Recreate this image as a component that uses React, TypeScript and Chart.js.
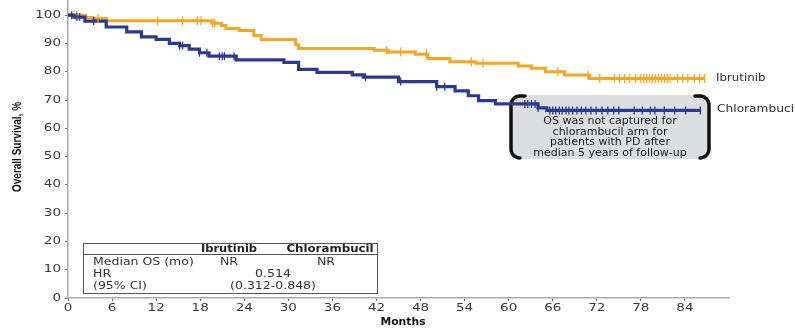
import React, { useEffect, useRef } from "react";
import { Chart, registerables } from "chart.js";

Chart.register(...registerables);

// Kaplan–Meier overall survival, ibrutinib vs chlorambucil
const ibrMonths = [0, 2.4, 3.4, 5.2, 19.6, 20.9, 21.5, 23.3, 25.3, 26.3, 31.0, 31.4, 41.7, 43.6, 47.3, 49.0, 52.0, 55.5, 61.3, 63.1, 65.0, 67.6, 71.0, 86.7];
const ibrSurv = [100, 99.2, 98.8, 98.0, 97.1, 96.3, 95.3, 94.6, 92.8, 91.4, 89.5, 88.2, 87.6, 87.0, 86.2, 84.7, 83.5, 83.0, 82.0, 81.2, 80.0, 78.8, 77.6, 77.6];

const chlMonths = [0, 0.8, 2.3, 5.2, 8.0, 10.0, 12.0, 13.8, 15.2, 16.5, 17.9, 19.2, 22.9, 29.4, 31.4, 33.9, 38.7, 40.2, 45.0, 50.2, 52.7, 54.5, 55.9, 58.2, 64.0, 65.2, 86.2];
const chlSurv = [100, 99.3, 97.9, 95.8, 94.1, 92.3, 91.4, 90.0, 89.2, 88.0, 86.7, 85.5, 84.2, 83.3, 80.8, 79.8, 78.9, 78.1, 76.5, 74.7, 73.2, 71.5, 69.8, 68.6, 67.2, 66.3, 66.3];

// censored observations (months)
const ibrCensor = [1.2, 4.1, 12.2, 15.6, 17.6, 18.1, 19.7, 20.0, 43.4, 45.3, 48.8, 54.9, 56.5, 66.7, 70.8, 72.4, 74.4, 75.1, 75.8, 76.5, 77.3, 78.0, 78.4, 78.8, 79.2, 79.6, 80.0, 80.4, 80.8, 81.2, 81.6, 82.0, 83.0, 83.7, 84.4, 85.3, 86.0, 86.7];
const chlCensor = [0.5, 1.2, 1.6, 3.5, 15.2, 15.6, 17.9, 18.9, 20.6, 21.0, 21.3, 22.6, 40.5, 45.3, 50.2, 51.3, 62.2, 62.6, 63.1, 63.6, 64.0, 65.6, 66.0, 66.4, 66.9, 67.3, 67.8, 68.2, 68.7, 69.3, 69.9, 70.5, 71.2, 71.9, 72.7, 73.5, 74.3, 75.0, 77.1, 78.2, 79.3, 79.9, 81.2, 82.6, 84.1, 86.1];

const xTicks = [0, 6, 12, 18, 24, 30, 36, 42, 48, 54, 60, 66, 72, 78, 84];
const yTicks = [0, 10, 20, 30, 40, 50, 60, 70, 80, 90, 100];

const tableHeader = ["Ibrutinib", "Chlorambucil"];
const tableRows = [
  ["Median OS (mo)", "NR", "NR"],
  ["HR", "0.514", ""],
  ["(95% CI)", "(0.312-0.848)", ""],
];
const noteLines = [
  "OS was not captured for",
  "chlorambucil arm for",
  "patients with PD after",
  "median 5 years of follow-up",
];

const ORANGE = "#F6A623";
const BLUE = "#2B3990";
const FONT = "'DejaVu Sans', sans-serif";

const stepAt = (months: number[], surv: number[], t: number) => {
  let v = surv[0];
  for (let i = 0; i < months.length; i++) if (months[i] <= t) v = surv[i];
  return v;
};

const wideText = (
  ctx: CanvasRenderingContext2D,
  text: string,
  x: number,
  y: number,
  sx: number,
  align: CanvasTextAlign
) => {
  ctx.save();
  ctx.translate(x, y);
  ctx.scale(sx, 1);
  ctx.textAlign = align;
  ctx.textBaseline = "middle";
  ctx.fillText(text, 0, 0);
  ctx.restore();
};

const decorations = {
  id: "decorations",
  beforeDatasetsDraw(chart: any) {
    const ctx: CanvasRenderingContext2D = chart.ctx;
    // shaded note box with brackets
    const L = 511, R = 709, T = 95, B = 159;
    ctx.save();
    ctx.fillStyle = "#DCDDDF";
    ctx.beginPath();
    ctx.roundRect(L, T, R - L, B - T, 6);
    ctx.fill();
    ctx.strokeStyle = "#111";
    ctx.lineWidth = 3.5;
    ctx.lineCap = "round";
    ctx.beginPath();
    ctx.moveTo(L + 14, T + 1);
    ctx.arcTo(L, T + 1, L, T + 14, 9);
    ctx.lineTo(L, B - 14);
    ctx.arcTo(L, B - 1, L + 14, B - 1, 9);
    ctx.stroke();
    ctx.beginPath();
    ctx.moveTo(R - 14, T + 1);
    ctx.arcTo(R, T + 1, R, T + 14, 9);
    ctx.lineTo(R, B - 14);
    ctx.arcTo(R, B - 1, R - 14, B - 1, 9);
    ctx.stroke();
    ctx.fillStyle = "#1a1a1a";
    ctx.font = `10px ${FONT}`;
    noteLines.forEach((s, i) => wideText(ctx, s, 610, 121.5 + i * 10.6, 1.1, "center"));
    ctx.restore();
  },
  afterDraw(chart: any) {
    const ctx: CanvasRenderingContext2D = chart.ctx;
    const xs = chart.scales.x;
    const ys = chart.scales.y;
    ctx.save();
    // tick labels
    ctx.fillStyle = "#3a3a3a";
    ctx.font = `10px ${FONT}`;
    yTicks.forEach((v) => wideText(ctx, String(v), 61, ys.getPixelForValue(v), 1.35, "right"));
    xTicks.forEach((v) => wideText(ctx, String(v), xs.getPixelForValue(v), 308.5, 1.35, "center"));

    // axis titles
    ctx.fillStyle = "#111";
    ctx.font = `bold 10.5px ${FONT}`;
    wideText(ctx, "Months", 403, 322, 1.03, "center");
    ctx.save();
    ctx.translate(18, 147);
    ctx.rotate(-Math.PI / 2);
    ctx.font = `bold 10px 'Liberation Sans', sans-serif`;
    ctx.scale(1, 1.25);
    ctx.textAlign = "center";
    ctx.textBaseline = "middle";
    ctx.fillText("Overall Survival, %", 0, 0);
    ctx.restore();

    // curve end labels
    ctx.fillStyle = "#2a2a2a";
    ctx.font = `10px ${FONT}`;
    wideText(ctx, "Ibrutinib", 716, ys.getPixelForValue(ibrSurv[ibrSurv.length - 1]), 1.18, "left");
    wideText(ctx, "Chlorambucil", 717, ys.getPixelForValue(chlSurv[chlSurv.length - 1]) - 1, 1.22, "left");

    // summary table
    const tL = 83, tR = 377, tT = 243, tB = 293;
    ctx.fillStyle = "#fff";
    ctx.fillRect(tL, tT, tR - tL, tB - tT);
    ctx.strokeStyle = "#555";
    ctx.lineWidth = 1;
    ctx.strokeRect(tL + 0.5, tT + 0.5, tR - tL, tB - tT);
    ctx.beginPath();
    ctx.moveTo(tL, 254.5);
    ctx.lineTo(tR, 254.5);
    ctx.stroke();
    ctx.fillStyle = "#222";
    ctx.font = `bold 10px ${FONT}`;
    wideText(ctx, tableHeader[0], 229, 249.5, 1.15, "center");
    wideText(ctx, tableHeader[1], 330, 249.5, 1.18, "center");
    ctx.fillStyle = "#333";
    ctx.font = `10px ${FONT}`;
    const rowY = [262, 274, 286];
    tableRows.forEach((row, i) => {
      wideText(ctx, row[0], 93, rowY[i], 1.25, "left");
      if (row[2]) {
        wideText(ctx, row[1], 229, rowY[i], 1.25, "center");
        wideText(ctx, row[2], 326, rowY[i], 1.25, "center");
      } else {
        wideText(ctx, row[1], 273, rowY[i], 1.25, "center");
      }
    });
    ctx.restore();
  },
};

const noScalePadding = (s: any) => {
  s.paddingTop = 0;
  s.paddingBottom = 0;
  s.paddingLeft = 0;
  s.paddingRight = 0;
};

export default function App() {
  const canvasRef = useRef<HTMLCanvasElement | null>(null);

  useEffect(() => {
    const canvas = canvasRef.current;
    if (!canvas) return;

    const ibrLine = ibrMonths.map((m, i) => ({ x: m, y: ibrSurv[i] }));
    const chlLine = chlMonths.map((m, i) => ({ x: m, y: chlSurv[i] }));
    const ibrMarks = ibrCensor.map((m) => ({ x: m, y: stepAt(ibrMonths, ibrSurv, m) }));
    const chlMarks = chlCensor.map((m) => ({ x: m, y: stepAt(chlMonths, chlSurv, m) }));

    const chart = new Chart(canvas, {
      type: "scatter",
      data: {
        datasets: [
          {
            label: "Chlorambucil censored",
            data: chlMarks,
            showLine: false,
            pointStyle: "line",
            rotation: 90,
            pointRadius: 4,
            borderColor: BLUE,
            backgroundColor: BLUE,
            pointBorderWidth: 1.3,
          },
          {
            label: "Ibrutinib censored",
            data: ibrMarks,
            showLine: false,
            pointStyle: "line",
            rotation: 90,
            pointRadius: 4.5,
            borderColor: ORANGE,
            backgroundColor: ORANGE,
            pointBorderWidth: 1.3,
          },
          {
            label: "Chlorambucil",
            data: chlLine,
            showLine: true,
            stepped: true,
            borderColor: BLUE,
            borderWidth: 3.2,
            pointRadius: 0,
          },
          {
            label: "Ibrutinib",
            data: ibrLine,
            showLine: true,
            stepped: true,
            borderColor: ORANGE,
            borderWidth: 3,
            pointRadius: 0,
          },
        ],
      },
      options: {
        animation: false,
        responsive: true,
        maintainAspectRatio: false,
        layout: { autoPadding: false, padding: { top: 1, right: 66, left: 0, bottom: 0 } },
        plugins: { legend: { display: false }, tooltip: { enabled: false } },
        scales: {
          x: {
            type: "linear",
            min: 0,
            max: 90,
            afterFit: (s: any) => {
              s.height = 31;
              noScalePadding(s);
            },
            afterBuildTicks: (s: any) => {
              s.ticks = xTicks.map((v) => ({ value: v }));
            },
            ticks: { display: false },
            grid: { drawOnChartArea: false, drawTicks: true, tickLength: 3, color: "#666", lineWidth: 1 },
            border: { display: true, color: "#aaa", width: 1.5 },
          },
          y: {
            type: "linear",
            min: 0,
            max: 105,
            afterFit: (s: any) => {
              s.width = 68;
              noScalePadding(s);
            },
            afterBuildTicks: (s: any) => {
              s.ticks = yTicks.map((v) => ({ value: v }));
            },
            ticks: { display: false },
            grid: { drawOnChartArea: false, drawTicks: true, tickLength: 3, color: "#666", lineWidth: 1 },
            border: { display: true, color: "#aaa", width: 1.5 },
          },
        },
      },
      plugins: [decorations],
    });

    return () => chart.destroy();
  }, []);

  return (
    <div style={{ position: "fixed", left: 0, top: 0, width: 795, height: 329, background: "#fff" }}>
      <canvas ref={canvasRef} />
    </div>
  );
}
